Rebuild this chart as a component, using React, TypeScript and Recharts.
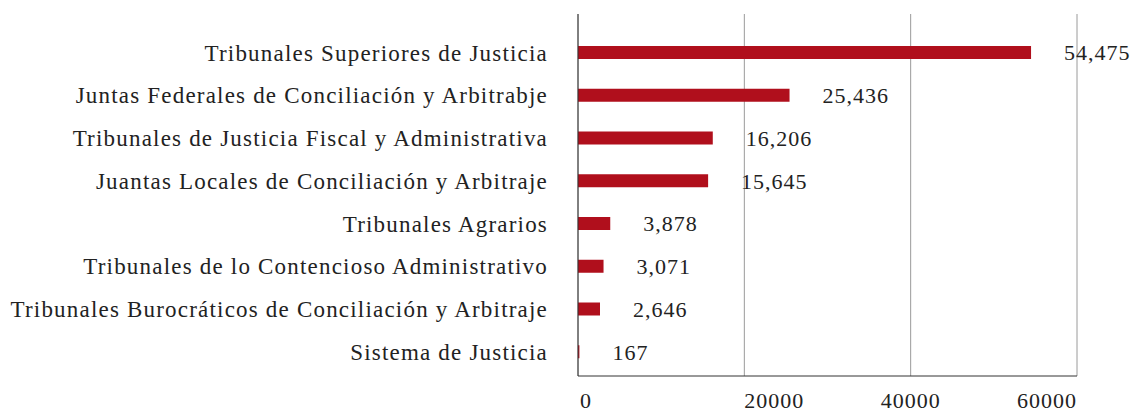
import React from "react";
import {
  BarChart,
  Bar,
  XAxis,
  YAxis,
  CartesianGrid,
  LabelList,
} from "recharts";

const categories = [
  "Tribunales Superiores de Justicia",
  "Juntas Federales de Conciliación y Arbitrabje",
  "Tribunales de Justicia Fiscal y Administrativa",
  "Juantas Locales de Conciliación y Arbitraje",
  "Tribunales Agrarios",
  "Tribunales de lo Contencioso Administrativo",
  "Tribunales Burocráticos de Conciliación y Arbitraje",
  "Sistema de Justicia",
];

const values = [54475, 25436, 16206, 15645, 3878, 3071, 2646, 167];

const xTicks = [0, 20000, 40000, 60000];

const data = categories.map((name, i) => ({ name, value: values[i] }));

const FONT = "'Liberation Serif', serif";
const TEXT = "#222";
const SIZE = 22;
const SPACING = 1;

// tick labels in the source aren't centred on their gridlines
const anchors = ["start", "start", "middle", "end"];

const XTick = (props: any) => {
  const { x, y, payload, index } = props;
  return (
    <text
      x={x + (index === 0 ? 2 : 0)}
      y={y}
      dy={24}
      textAnchor={anchors[index] || "middle"}
      fill={TEXT}
      fontSize={SIZE}
      fontFamily={FONT}
      letterSpacing={SPACING}
    >
      {payload.value}
    </text>
  );
};

export default function App() {
  return (
    <div style={{ position: "fixed", left: 0, top: 0, background: "#fff" }}>
      <BarChart
        width={1146}
        height={414}
        data={data}
        layout="vertical"
        margin={{ top: 14, right: 69, left: 0, bottom: 0 }}
      >
        <CartesianGrid horizontal={false} stroke="#9a9a9a" />
        <XAxis
          type="number"
          domain={[0, 60000]}
          ticks={xTicks}
          height={38}
          axisLine={{ stroke: "#333" }}
          tickLine={false}
          tick={<XTick />}
        />
        <YAxis
          type="category"
          dataKey="name"
          width={578}
          axisLine={{ stroke: "#333" }}
          tickLine={false}
          tickMargin={24}
          padding={{ top: 17, bottom: 3 }}
          interval={0}
          tick={{ fill: TEXT, fontSize: 23, fontFamily: FONT, letterSpacing: 1.2 }}
        />
        <Bar dataKey="value" fill="#b00f1c" barSize={13} isAnimationActive={false}>
          <LabelList
            dataKey="value"
            position="right"
            offset={33}
            formatter={(v: any) => Number(v).toLocaleString("en-US")}
            fill={TEXT}
            fontSize={SIZE}
            fontFamily={FONT}
            letterSpacing={SPACING}
          />
        </Bar>
      </BarChart>
    </div>
  );
}
